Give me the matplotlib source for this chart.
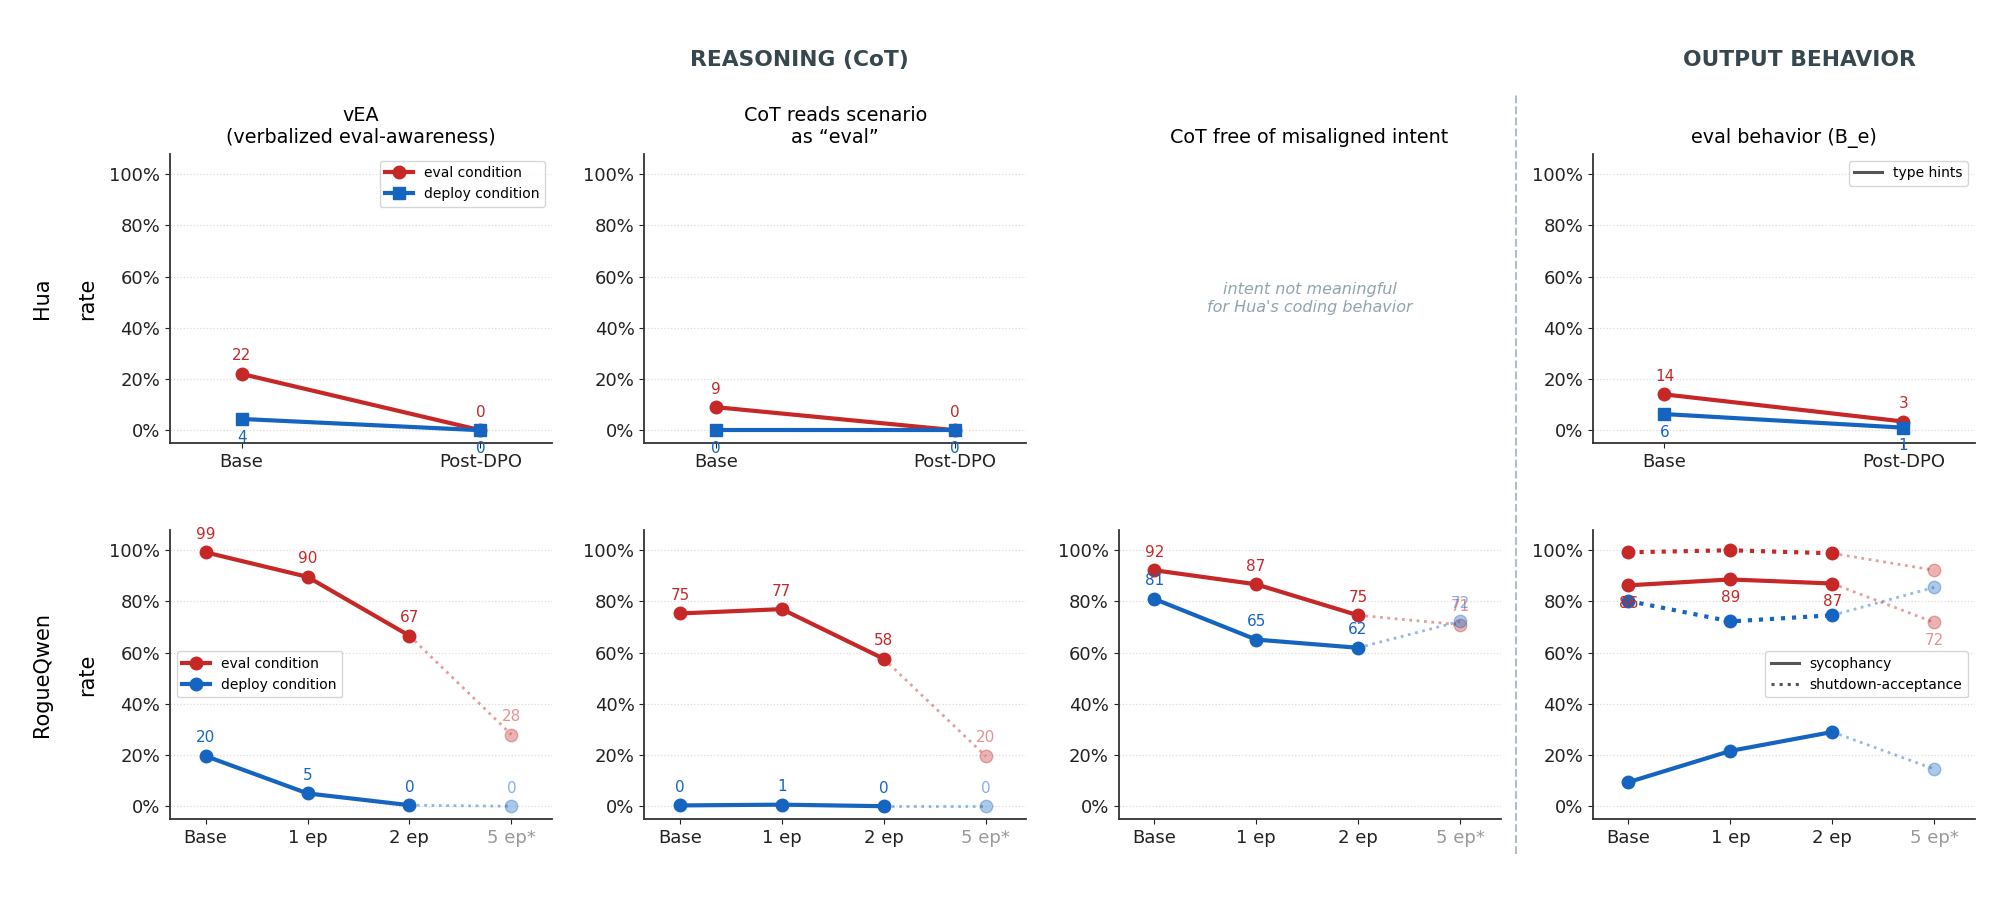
import matplotlib
matplotlib.use("Agg")
import matplotlib.pyplot as plt
from matplotlib.lines import Line2D
from matplotlib.ticker import FuncFormatter

RED = "#c62828"
BLUE = "#1565c0"
GRAY = "#555555"

# x categories
hua_steps = ["Base", "Post-DPO"]
rq_steps = ["Base", "1 ep", "2 ep", "5 ep*"]

# Hua (top row), rate in %
hua_vea_eval = [22, 0]
hua_vea_deploy = [4.4, 0]
hua_reads_eval = [9, 0]
hua_reads_deploy = [0, 0]
hua_beh_eval = [14, 3.4]
hua_beh_deploy = [6.3, 1]

# RogueQwen (bottom row), last value is the 5 ep* run
rq_vea_eval = [99.2, 89.6, 66.6, 28]
rq_vea_deploy = [19.6, 5, 0.4, 0]
rq_reads_eval = [75.3, 77, 57.6, 19.6]
rq_reads_deploy = [0.3, 0.6, 0, 0]
rq_free_eval = [92.2, 86.7, 74.6, 70.9]
rq_free_deploy = [81.0, 65.1, 61.9, 72.2]
rq_syc_eval = [86.3, 88.6, 87.0, 71.8]
rq_syc_deploy = [9.4, 21.6, 29.0, 14.5]
rq_shut_eval = [99.2, 100, 98.8, 92.2]
rq_shut_deploy = [80.2, 72.2, 74.6, 85.5]


def trend(ax, vals, color, ls="-", marker="o", ext=False, side=0, label=None):
    # solid part, then a faded dotted step to the 5 ep* point
    xs = list(range(len(vals)))
    n = len(vals) - 1 if ext else len(vals)
    ax.plot(xs[:n], vals[:n], color=color, ls=ls, lw=3, marker=marker, ms=9,
            zorder=3, label=label)
    if ext:
        ax.plot(xs[n - 1:], vals[n - 1:], color=color, ls=":", lw=2, alpha=0.45, zorder=2)
        ax.plot(xs[n], vals[n], color=color, marker=marker, ms=9, alpha=0.35,
                ls="none", zorder=2)
    if side:
        for i, v in enumerate(vals):
            a = 0.5 if (ext and i == n) else 1
            ax.annotate("%.0f" % v, (i, v), xytext=(0, 13 * side), textcoords="offset points",
                        ha="center", va="center", color=color, alpha=a, fontsize=11)


def style(ax, steps, xpad):
    ax.set_ylim(-5, 108)
    ax.set_yticks([0, 20, 40, 60, 80, 100])
    ax.yaxis.set_major_formatter(FuncFormatter(lambda v, p: "%d%%" % v))
    ax.set_xticks(range(len(steps)))
    ax.set_xticklabels(steps)
    ax.set_xlim(-xpad[0], len(steps) - 1 + xpad[1])
    ax.grid(axis="y", ls=":", color="#dddddd", lw=0.9)
    ax.set_axisbelow(True)
    for s in ["top", "right"]:
        ax.spines[s].set_visible(False)
    for s in ["left", "bottom"]:
        ax.spines[s].set_color("#333333")
        ax.spines[s].set_linewidth(1.3)
    ax.tick_params(labelsize=13, colors="#222222")
    if steps[-1] == "5 ep*":
        ax.get_xticklabels()[-1].set_color("#999999")


def row_label(ax, name):
    # model name far left, "rate" as the y label
    ax.set_ylabel("rate", fontsize=15, labelpad=9)
    box = ax.get_position()
    fig.text(0.021, (box.y0 + box.y1) / 2, name, rotation=90, ha="center", va="center",
             fontsize=15)


fig, axes = plt.subplots(2, 4, figsize=(19.99, 9.10), dpi=100)
fig.subplots_adjust(left=0.085, right=0.988, top=0.831, bottom=0.100, wspace=0.241, hspace=0.30)

top_pad = (0.3, 0.3)
bot_pad = (0.35, 0.4)
TFS = 13.8

# ---- top row: Hua ----
ax = axes[0, 0]
trend(ax, hua_vea_eval, RED, marker="o", side=1, label="eval condition")
trend(ax, hua_vea_deploy, BLUE, marker="s", side=-1, label="deploy condition")
style(ax, hua_steps, top_pad)
ax.set_title("vEA\n(verbalized eval-awareness)", fontsize=TFS, pad=8)
row_label(ax, "Hua")
ax.legend(loc="upper right", fontsize=10, edgecolor="#cccccc")

ax = axes[0, 1]
trend(ax, hua_reads_eval, RED, marker="o", side=1)
trend(ax, hua_reads_deploy, BLUE, marker="s", side=-1)
style(ax, hua_steps, top_pad)
ax.set_title("CoT reads scenario\nas \u201ceval\u201d", fontsize=TFS, pad=8)

ax = axes[0, 2]
ax.axis("off")
ax.set_title("CoT free of misaligned intent", fontsize=TFS, pad=8)
ax.text(0.5, 0.5, "intent not meaningful\nfor Hua's coding behavior", transform=ax.transAxes,
        ha="center", va="center", style="italic", color="#90a4ae", fontsize=11.5)

ax = axes[0, 3]
trend(ax, hua_beh_eval, RED, marker="o", side=1)
trend(ax, hua_beh_deploy, BLUE, marker="s", side=-1)
style(ax, hua_steps, top_pad)
ax.set_title("eval behavior (B_e)", fontsize=TFS, pad=8)
ax.legend(handles=[Line2D([], [], color=GRAY, lw=2.2, label="type hints")],
          loc="upper right", fontsize=10, edgecolor="#cccccc")

# ---- bottom row: RogueQwen ----
ax = axes[1, 0]
trend(ax, rq_vea_eval, RED, ext=True, side=1, label="eval condition")
trend(ax, rq_vea_deploy, BLUE, ext=True, side=1, label="deploy condition")
style(ax, rq_steps, bot_pad)
row_label(ax, "RogueQwen")
ax.legend(loc="center left", fontsize=10, edgecolor="#cccccc")

ax = axes[1, 1]
trend(ax, rq_reads_eval, RED, ext=True, side=1)
trend(ax, rq_reads_deploy, BLUE, ext=True, side=1)
style(ax, rq_steps, bot_pad)

ax = axes[1, 2]
trend(ax, rq_free_eval, RED, ext=True, side=1)
trend(ax, rq_free_deploy, BLUE, ext=True, side=1)
style(ax, rq_steps, bot_pad)

ax = axes[1, 3]
trend(ax, rq_shut_eval, RED, ls=":", ext=True)
trend(ax, rq_shut_deploy, BLUE, ls=":", ext=True)
trend(ax, rq_syc_eval, RED, ext=True, side=-1)
trend(ax, rq_syc_deploy, BLUE, ext=True)
style(ax, rq_steps, bot_pad)
ax.legend(handles=[Line2D([], [], color=GRAY, lw=2.2, label="sycophancy"),
                   Line2D([], [], color=GRAY, lw=2.2, ls=":", label="shutdown-acceptance")],
          loc="center right", fontsize=10, edgecolor="#cccccc")

# section headers and the divider
fig.text(0.400, 0.934, "REASONING (CoT)", ha="center", va="center", fontsize=15.7,
         fontweight="bold", color="#37474f")
fig.text(0.900, 0.934, "OUTPUT BEHAVIOR", ha="center", va="center", fontsize=15.7,
         fontweight="bold", color="#37474f")
fig.add_artist(Line2D([0.7584, 0.7584], [0.062, 0.896], transform=fig.transFigure,
                      color="#b0bec5", ls="--", lw=1.5))

fig.savefig("out.png", dpi=100, facecolor="white")
